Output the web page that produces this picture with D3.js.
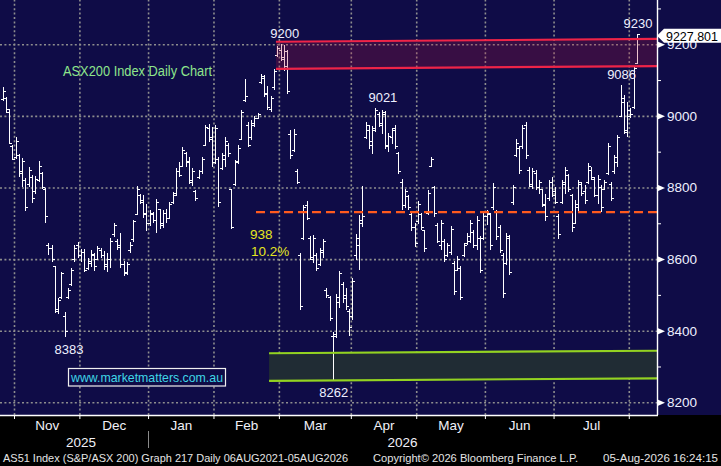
<!DOCTYPE html>
<html>
<head>
<meta charset="utf-8">
<script src="https://cdn.jsdelivr.net/npm/d3@7"></script>
<style>
  body { margin: 0; background: #000; overflow: hidden; }
  svg { display: block; }
  text { font-family: "Liberation Sans", Arial, sans-serif; }
</style>
</head>
<body>
<div id="chart"></div>
<script>
// ASX200 daily OHLC bars, bar index 0 = first trading day of Nov 2025
const firstBarIndex = -4;

const barHigh = [
  9082, 9053, 9018, 8919,
  8942, 8894, 8881, 8826, 8856, 8835, 8831, 8874, 8844, 8798,
  8645, 8639, 8581, 8491, 8565, 8451, 8520, 8574, 8638, 8648,
  8627, 8627, 8604, 8624, 8618, 8636, 8631, 8622, 8618, 8659,
  8701, 8655, 8673, 8594, 8592, 8648, 8710, 8803, 8783, 8778,
  8755, 8736, 8731, 8769, 8741, 8736, 8741, 8760, 8788, 8853,
  8872, 8914, 8900, 8886, 8853, 8792, 8849, 8886, 8975, 8977,
  8970, 8975, 8886, 8895, 8942, 8924, 8797, 8877, 8919, 9017,
  9103, 8982, 8989, 8999, 9008, 9116, 9113, 9083, 9055, 9130,
  9196, 9200, 9198, 9184, 8960, 8962, 8851, 8618, 8752, 8761,
  8664, 8666, 8618, 8632, 8655, 8520, 8497, 8395, 8502, 8567,
  8535, 8518, 8460, 8548, 8669, 8724, 8803, 8983, 8974, 8972,
  9021, 9011, 9016, 9014, 8951, 8965, 8974, 8900, 8823, 8795,
  8780, 8729, 8700, 8761, 8729, 8682, 8792, 8886, 8803, 8701,
  8710, 8655, 8645, 8692, 8594, 8608, 8581, 8645, 8673, 8710,
  8682, 8719, 8664, 8729, 8738, 8729, 8812, 8738, 8696, 8618,
  8673, 8668, 8807, 8934, 8916, 8975, 8984, 8858, 8853, 8849,
  8821, 8797, 8783, 8821, 8830, 8802, 8727, 8821, 8858, 8839,
  8783, 8764, 8821, 8816, 8807, 8867, 8858, 8830, 8834, 8807,
  8821, 8923, 8816, 8891, 8947, 9086, 9058, 9040, 9021, 9137, 9230
];
const barLow = [
  9044, 9009, 8923, 8877,
  8881, 8831, 8803, 8736, 8803, 8759, 8784, 8817, 8798, 8703,
  8613, 8592, 8451, 8448, 8490, 8383, 8491, 8525, 8594, 8604,
  8594, 8564, 8571, 8579, 8569, 8599, 8604, 8571, 8564, 8576,
  8664, 8627, 8576, 8553, 8557, 8619, 8650, 8724, 8755, 8717,
  8680, 8694, 8703, 8675, 8685, 8689, 8703, 8713, 8755, 8778,
  8830, 8858, 8858, 8811, 8806, 8764, 8825, 8839, 8919, 8928,
  8858, 8867, 8746, 8849, 8858, 8886, 8685, 8806, 8867, 8933,
  9041, 8914, 8933, 8970, 8994, 9090, 9055, 9017, 9013, 9075,
  9165, 9155, 9128, 9063, 8880, 8900, 8812, 8460, 8655, 8710,
  8599, 8590, 8567, 8581, 8604, 8493, 8428, 8262, 8382, 8465,
  8479, 8460, 8386, 8432, 8600, 8571, 8692, 8937, 8909, 8895,
  8956, 8969, 8951, 8909, 8900, 8923, 8909, 8840, 8738, 8745,
  8738, 8680, 8636, 8700, 8682, 8622, 8724, 8858, 8720, 8645,
  8627, 8594, 8608, 8613, 8502, 8567, 8488, 8608, 8640, 8645,
  8631, 8627, 8562, 8655, 8696, 8627, 8738, 8655, 8618, 8493,
  8585, 8557, 8752, 8886, 8840, 8909, 8880, 8802, 8797, 8793,
  8783, 8746, 8708, 8764, 8774, 8755, 8657, 8755, 8783, 8788,
  8676, 8699, 8736, 8778, 8755, 8811, 8821, 8774, 8755, 8732,
  8793, 8835, 8764, 8839, 8858, 8998, 8952, 8941, 8995, 9021, 9145
];
const barOpen = [
  9048, 9050, 9010, 8915,
  8885, 8890, 8845, 8820, 8810, 8830, 8790, 8820, 8840, 8795,
  8640, 8630, 8580, 8455, 8495, 8440, 8495, 8530, 8600, 8640,
  8610, 8620, 8575, 8590, 8612, 8600, 8625, 8610, 8585, 8600,
  8670, 8650, 8640, 8585, 8565, 8625, 8655, 8725, 8780, 8765,
  8730, 8700, 8725, 8710, 8740, 8700, 8730, 8715, 8760, 8785,
  8845, 8860, 8895, 8875, 8815, 8790, 8830, 8845, 8920, 8965,
  8940, 8870, 8880, 8855, 8880, 8920, 8795, 8810, 8875, 8935,
  9045, 8975, 8940, 8975, 8995, 9095, 9105, 9065, 9020, 9080,
  9170, 9185, 9160, 9180, 8950, 8905, 8845, 8610, 8660, 8750,
  8660, 8600, 8610, 8585, 8620, 8515, 8495, 8385, 8390, 8480,
  8530, 8500, 8455, 8440, 8610, 8640, 8700, 8940, 8960, 8930,
  8965, 9005, 8980, 9005, 8915, 8940, 8965, 8895, 8815, 8750,
  8775, 8725, 8690, 8705, 8725, 8680, 8730, 8860, 8800, 8695,
  8640, 8650, 8610, 8620, 8590, 8570, 8575, 8610, 8645, 8650,
  8675, 8640, 8660, 8660, 8720, 8725, 8745, 8735, 8690, 8610,
  8590, 8660, 8760, 8890, 8910, 8915, 8975, 8850, 8805, 8840,
  8800, 8795, 8750, 8770, 8815, 8790, 8720, 8760, 8810, 8835,
  8780, 8700, 8745, 8810, 8790, 8815, 8850, 8825, 8780, 8800,
  8795, 8840, 8810, 8845, 8870, 9000, 9050, 8955, 9000, 9025, 9148
];
const barClose = [
  9070, 9020, 8925, 8880,
  8930, 8840, 8875, 8745, 8850, 8770, 8825, 8860, 8800, 8720,
  8630, 8600, 8460, 8485, 8560, 8400, 8515, 8570, 8630, 8610,
  8620, 8570, 8595, 8615, 8580, 8630, 8610, 8580, 8600, 8650,
  8695, 8635, 8585, 8560, 8585, 8640, 8705, 8795, 8760, 8725,
  8700, 8730, 8710, 8760, 8695, 8730, 8715, 8755, 8780, 8845,
  8835, 8905, 8870, 8820, 8845, 8770, 8845, 8880, 8970, 8935,
  8870, 8965, 8760, 8890, 8930, 8895, 8690, 8870, 8910, 9010,
  9055, 8920, 8980, 8995, 9005, 9110, 9060, 9025, 9050, 9125,
  9190, 9165, 9140, 9070, 8890, 8950, 8815, 8470, 8745, 8715,
  8605, 8660, 8575, 8625, 8650, 8500, 8435, 8385, 8495, 8560,
  8490, 8470, 8410, 8540, 8660, 8710, 8720, 8975, 8920, 8960,
  9015, 8975, 9010, 8920, 8945, 8960, 8915, 8845, 8750, 8790,
  8745, 8690, 8645, 8755, 8690, 8630, 8785, 8880, 8730, 8650,
  8700, 8600, 8640, 8685, 8510, 8600, 8495, 8640, 8665, 8700,
  8640, 8710, 8570, 8720, 8730, 8640, 8800, 8665, 8625, 8505,
  8665, 8565, 8800, 8925, 8850, 8965, 8890, 8810, 8845, 8800,
  8815, 8755, 8720, 8815, 8780, 8760, 8670, 8815, 8850, 8795,
  8690, 8755, 8815, 8785, 8765, 8860, 8830, 8780, 8825, 8745,
  8815, 8915, 8770, 8885, 8940, 9040, 8960, 9015, 9005, 9135, 9227.801
];

// month boundaries (bar index of first trading day)
const monthLabels = ['Nov', 'Dec', 'Jan', 'Feb', 'Mar', 'Apr', 'May', 'Jun', 'Jul'];
const monthStarts = [0, 20, 41, 61, 81, 103, 123, 144, 165, 188];
const yearLabels = ['2025', '2026'];
const yearStarts = [0, 41];

const yLabelTicks = [8200, 8400, 8600, 8800, 9000, 9200];
const yMinorTicks = [8300, 8500, 8700, 8900, 9100, 9300];

const extremeLabels = [
  { text: '9200', at: 82, value: 9200, side: 'above' },
  { text: '9021', at: 112, value: 9021, side: 'above' },
  { text: '9086', at: 185, value: 9086, side: 'above' },
  { text: '9230', at: 190, value: 9230, side: 'above' },
  { text: '8383', at: 16, value: 8383, side: 'below' },
  { text: '8262', at: 97, value: 8262, side: 'below' }
];

// drawn trading zones: [start index, end index], edge values at start and end
const resistanceZone = { from: 79.6, to: 196.13, top: [9207, 9215], bottom: [9131, 9139] };
const supportZone = { from: 77.5, to: 196.13, top: [8337, 8344], bottom: [8260, 8267] };
const rangeHigh = 9200;
const rangeLow = 8262;
const midLineFrom = 73.5;

const W = 721, H = 466;
const plotRight = 657, plotBottom = 415;
const navy = '#0f0c47';

const svg = d3.select('#chart').append('svg')
  .attr('width', W)
  .attr('height', H);

svg.append('rect').attr('width', W).attr('height', H).attr('fill', '#000');
svg.append('rect').attr('width', W).attr('height', plotBottom).attr('fill', navy);

const x = d3.scaleLinear().domain([-4.78, 196.13]).range([0, plotRight]);
const y = d3.scaleLinear().domain([8164.5, 9323.6]).range([plotBottom, 0]);

const bars = barHigh.map((h, k) => ({
  i: firstBarIndex + k, h: h, l: barLow[k], o: barOpen[k], c: barClose[k]
}));

// dotted grid
const gridStyle = g => {
  g.select('.domain').remove();
  g.selectAll('.tick text').remove();
  g.selectAll('.tick line')
    .attr('stroke', '#8e8e8e')
    .attr('stroke-width', 1.6)
    .attr('stroke-dasharray', '2,2.4');
};
svg.append('g')
  .call(d3.axisLeft(y).tickValues(yLabelTicks).tickSize(-plotRight))
  .call(gridStyle);
svg.append('g')
  .attr('transform', 'translate(0,' + plotBottom + ')')
  .call(d3.axisBottom(x).tickValues(monthStarts.map(b => b - 0.5)).tickSize(-plotBottom))
  .call(gridStyle);

// support zone (under the bars)
const zoneArea = z => d3.area()
  .x(d => x(d[0]))
  .y0(d => y(d[1]))
  .y1(d => y(d[2]))([[z.from, z.bottom[0], z.top[0]], [z.to, z.bottom[1], z.top[1]]]);
const zoneEdge = (z, key) => d3.line()
  .x(d => x(d[0]))
  .y(d => y(d[1]))([[z.from, z[key][0]], [z.to, z[key][1]]]);

svg.append('path').attr('d', zoneArea(supportZone)).attr('fill', 'rgb(32,44,52)');

// OHLC bars
const tick = 2.6;
svg.append('g')
  .attr('stroke', '#fff')
  .attr('stroke-width', 1)
  .attr('fill', 'none')
  .attr('shape-rendering', 'crispEdges')
  .selectAll('path')
  .data(bars)
  .join('path')
  .attr('d', d => {
    const cx = Math.round(x(d.i)) + 0.5;
    const yo = Math.round(y(d.o)) + 0.5, yc = Math.round(y(d.c)) + 0.5;
    return 'M' + cx + ',' + y(d.h) + 'V' + (y(d.l) + 0.5) +
      'M' + (cx - tick) + ',' + yo + 'H' + cx +
      'M' + cx + ',' + yc + 'H' + (cx + tick);
  });

// resistance zone (translucent over the bars)
svg.append('path').attr('d', zoneArea(resistanceZone)).attr('fill', 'rgba(179,21,59,0.25)');
['top', 'bottom'].forEach(k => {
  svg.append('path').attr('d', zoneEdge(resistanceZone, k))
    .attr('stroke', '#ee2448').attr('stroke-width', 2.2).attr('fill', 'none');
  svg.append('path').attr('d', zoneEdge(supportZone, k))
    .attr('stroke', '#93d321').attr('stroke-width', 2.2).attr('fill', 'none');
});

// 50% line of the range
const mid = (rangeHigh + rangeLow) / 2;
svg.append('line')
  .attr('x1', x(midLineFrom)).attr('x2', plotRight)
  .attr('y1', y(mid)).attr('y2', y(mid))
  .attr('stroke', '#ff5a1e').attr('stroke-width', 2.2)
  .attr('stroke-dasharray', '9,5');

const rangeSize = rangeHigh - rangeLow;
svg.append('text')
  .attr('x', x(midLineFrom) - 6).attr('y', y(mid) + 27)
  .attr('fill', '#e6e61e').attr('font-size', 13.5)
  .text(rangeSize);
svg.append('text')
  .attr('x', x(midLineFrom) - 5).attr('y', y(mid) + 44)
  .attr('fill', '#e6e61e').attr('font-size', 13.5)
  .text(d3.format('.1%')(rangeSize / rangeHigh));

// extreme labels
svg.append('g')
  .selectAll('text')
  .data(extremeLabels)
  .join('text')
  .attr('x', d => x(d.at) + 1)
  .attr('y', d => d.side === 'above' ? y(d.value) - 6 : y(d.value) + 17)
  .attr('text-anchor', 'middle')
  .attr('fill', '#eef0ff')
  .attr('font-size', 13)
  .text(d => d.text);

// title and website
svg.append('text')
  .attr('x', 63).attr('y', 75.5)
  .attr('fill', '#8ee68c').attr('font-size', 14)
  .attr('textLength', 149).attr('lengthAdjust', 'spacingAndGlyphs')
  .text('ASX200 Index Daily Chart');
svg.append('rect')
  .attr('x', 68.5).attr('y', 368.5).attr('width', 157).attr('height', 17.5)
  .attr('fill', navy).attr('stroke', '#f0f0f0').attr('stroke-width', 1.2);
svg.append('text')
  .attr('x', 147).attr('y', 382)
  .attr('text-anchor', 'middle')
  .attr('fill', '#3fd6e6').attr('font-size', 13.5)
  .attr('textLength', 152).attr('lengthAdjust', 'spacingAndGlyphs')
  .text('www.marketmatters.com.au');

// right axis
const yAxis = svg.append('g')
  .attr('transform', 'translate(' + plotRight + ',0)')
  .call(d3.axisRight(y).tickValues(yLabelTicks).tickSize(0).tickPadding(10).tickFormat(d3.format('d')));
yAxis.select('.domain').remove();
yAxis.selectAll('.tick text')
  .attr('fill', '#eef0ff').attr('font-size', 13.5)
  .attr('font-family', '"Liberation Sans", Arial, sans-serif');
yAxis.selectAll('.tick').append('path')
  .attr('d', 'M0,-3.5L8,0L0,3.5Z')
  .attr('fill', '#fff');
const yMinor = svg.append('g')
  .attr('transform', 'translate(' + plotRight + ',0)')
  .call(d3.axisRight(y).tickValues(yMinorTicks).tickSize(4).tickFormat(''));
yMinor.select('.domain').remove();
yMinor.selectAll('.tick line').attr('stroke', '#fff');

svg.append('line')
  .attr('x1', plotRight + 0.5).attr('x2', plotRight + 0.5)
  .attr('y1', 0).attr('y2', plotBottom)
  .attr('stroke', '#fff').attr('stroke-width', 1.4);

// last price tag
const last = barClose[barClose.length - 1];
const ty = y(last) + 1.5;
svg.append('path')
  .attr('d', 'M' + (plotRight) + ',' + ty + 'L' + (plotRight + 7) + ',' + (ty - 7) +
    'H' + W + 'V' + (ty + 7) + 'H' + (plotRight + 7) + 'Z')
  .attr('fill', '#fff');
svg.append('text')
  .attr('x', plotRight + 9).attr('y', ty + 5)
  .attr('fill', '#000').attr('font-size', 13)
  .attr('textLength', 52).attr('lengthAdjust', 'spacingAndGlyphs')
  .text(d3.format('.3f')(last));

// bottom axis
svg.append('line')
  .attr('x1', 0).attr('x2', plotRight + 1)
  .attr('y1', plotBottom + 0.5).attr('y2', plotBottom + 0.5)
  .attr('stroke', '#fff').attr('stroke-width', 1.4);
const xTicks = svg.append('g')
  .attr('transform', 'translate(0,' + plotBottom + ')')
  .call(d3.axisBottom(x).tickValues(monthStarts.map(b => b - 0.5)).tickSize(4).tickFormat(''));
xTicks.select('.domain').remove();
xTicks.selectAll('.tick line').attr('stroke', '#fff');

const monthMids = monthLabels.map((m, k) => (monthStarts[k] + monthStarts[k + 1]) / 2 - 0.5);
const xLabels = svg.append('g')
  .attr('transform', 'translate(0,' + plotBottom + ')')
  .call(d3.axisBottom(x).tickValues(monthMids).tickSize(0).tickPadding(5)
    .tickFormat((d, k) => monthLabels[k]));
xLabels.select('.domain').remove();
xLabels.selectAll('.tick text')
  .attr('fill', '#f0f0f8').attr('font-size', 13.5)
  .attr('font-family', '"Liberation Sans", Arial, sans-serif');

const yearEdges = yearStarts.map(b => x(b - 0.5)).concat([plotRight]);
svg.append('g')
  .selectAll('text')
  .data(yearLabels)
  .join('text')
  .attr('x', (d, k) => (Math.max(0, yearEdges[k]) + yearEdges[k + 1]) / 2)
  .attr('y', 446.5)
  .attr('text-anchor', 'middle')
  .attr('fill', '#f0f0f8').attr('font-size', 13.5)
  .text(d => d);
yearStarts.slice(1).forEach(b => {
  svg.append('line')
    .attr('x1', Math.round(x(b - 0.5)) + 0.5).attr('x2', Math.round(x(b - 0.5)) + 0.5)
    .attr('y1', 431).attr('y2', 448)
    .attr('stroke', '#8a8a8a');
});

// footer
const footer = [
  { t: 'AS51 Index (S&P/ASX 200) Graph 217 Daily 06AUG2021-05AUG2026', x: 3, w: 345 },
  { t: 'Copyright\u00a9 2026 Bloomberg Finance L.P.', x: 373, w: 205 },
  { t: '05-Aug-2026 16:24:15', x: 603, w: 115 }
];
svg.append('g')
  .selectAll('text')
  .data(footer)
  .join('text')
  .attr('x', d => d.x).attr('y', 462)
  .attr('fill', '#e4e4e4').attr('font-size', 11.5)
  .attr('textLength', d => d.w).attr('lengthAdjust', 'spacingAndGlyphs')
  .text(d => d.t);
</script>
</body>
</html>
